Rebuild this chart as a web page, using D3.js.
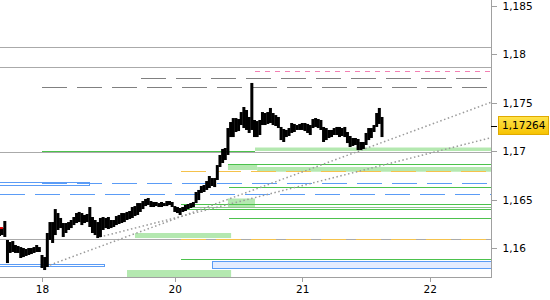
<!DOCTYPE html>
<html>
<head>
<meta charset="utf-8">
<script src="https://cdn.jsdelivr.net/npm/d3@7"></script>
<style>
  body { margin: 0; background: #fff; }
  text { font-family: "DejaVu Sans", sans-serif; font-size: 10.5px; }
</style>
</head>
<body>
<script>
var svgWidth = 550;
var svgHeight = 300;
var plotRight = 491;
var plotBottom = 277;

// axis data
var dayLabels = ["18", "20", "21", "22"];
var dayHours = [0, 25, 49, 73];          // trading hours since the 18th, weekend skipped
var priceTicks = [1.16, 1.165, 1.17, 1.175, 1.18, 1.185];
var lastPrice = 1.17264;

// half hour bars, first bar at hour -8
var barStart = -8;
var barStep = 0.5;
var highs = [1.16199,1.16209,1.16282,1.16086,1.16065,1.16075,1.16034,1.16024,1.16013,1.16003,
  1.15993,1.16003,1.16003,1.16013,1.16034,1.16013,1.15931,1.15910,1.16158,1.16271,
  1.16271,1.16405,1.16364,1.16313,1.16261,1.16261,1.16271,1.16292,1.16323,1.16364,
  1.16375,1.16364,1.16344,1.16354,1.16426,1.16323,1.16292,1.16271,1.16313,1.16323,
  1.16313,1.16323,1.16292,1.16292,1.16333,1.16344,1.16364,1.16364,1.16375,1.16385,
  1.16426,1.16436,1.16467,1.16467,1.16488,1.16509,1.16519,1.16488,1.16478,1.16478,
  1.16467,1.16478,1.16467,1.16488,1.16488,1.16478,1.16436,1.16426,1.16416,1.16426,
  1.16447,1.16457,1.16467,1.16478,1.16581,1.16602,1.16643,1.16653,1.16694,1.16746,
  1.16725,1.16725,1.16859,1.16963,1.17025,1.17035,1.17241,1.17303,1.17344,1.17344,
  1.17334,1.17406,1.17458,1.17427,1.17355,1.17706,1.17324,1.17313,1.17324,1.17406,
  1.17396,1.17406,1.17448,1.17396,1.17375,1.17355,1.17252,1.17231,1.17221,1.17241,
  1.17293,1.17283,1.17272,1.17283,1.17293,1.17293,1.17283,1.17272,1.17334,1.17344,
  1.17334,1.17324,1.17252,1.17241,1.17221,1.17221,1.17241,1.17252,1.17252,1.17241,
  1.17252,1.17200,1.17159,1.17138,1.17138,1.17128,1.17097,1.17097,1.17190,1.17241,
  1.17241,1.17272,1.17396,1.17448,1.17355];
var lows = [1.16127,1.16137,1.16117,1.15848,1.15952,1.15962,1.15952,1.15952,1.15900,1.15910,
  1.15921,1.15931,1.15941,1.15952,1.15962,1.15962,1.15797,1.15776,1.15807,1.16086,
  1.16055,1.16137,1.16189,1.16209,1.16117,1.16158,1.16189,1.16209,1.16240,1.16261,
  1.16271,1.16240,1.16261,1.16271,1.16220,1.16158,1.16137,1.16106,1.16117,1.16189,
  1.16209,1.16199,1.16209,1.16220,1.16240,1.16251,1.16261,1.16271,1.16292,1.16302,
  1.16313,1.16333,1.16344,1.16375,1.16405,1.16436,1.16447,1.16426,1.16426,1.16436,
  1.16426,1.16426,1.16436,1.16436,1.16447,1.16426,1.16375,1.16364,1.16344,1.16375,
  1.16385,1.16405,1.16416,1.16426,1.16467,1.16498,1.16571,1.16581,1.16602,1.16622,
  1.16643,1.16632,1.16705,1.16839,1.16880,1.16911,1.16963,1.17148,1.17148,1.17200,
  1.17210,1.17272,1.17241,1.17221,1.17190,1.17221,1.17148,1.17148,1.17169,1.17272,
  1.17272,1.17283,1.17293,1.17272,1.17262,1.17241,1.17117,1.17097,1.17148,1.17159,
  1.17190,1.17200,1.17221,1.17221,1.17221,1.17210,1.17190,1.17169,1.17241,1.17252,
  1.17241,1.17221,1.17097,1.17117,1.17138,1.17148,1.17169,1.17169,1.17148,1.17159,
  1.17148,1.17086,1.17045,1.17056,1.17066,1.17014,1.17014,1.17025,1.17066,1.17117,
  1.17138,1.17200,1.17252,1.17283,1.17148];
var signalPrice = 1.16209;   // red mark on the first bar

// levels: [price, from hour, to hour (optional)]
var grayLevels = [[1.18074, -8], [1.17868, -8], [1.16997, -8], [1.16093, -8]];
var grayDashLevels = [[1.17754, 18.6], [1.17661, 0]];
var pinkDashLevels = [[1.17829, 40.1]];
var blueDashLevels = [[1.16671, 0], [1.16557, -8]];
var orangeDashLevels = [[1.16795, 26.2], [1.16093, 26.2]];
var greenLevels = [[1.17007, 0, 40.1], [1.16867, 35.0], [1.16629, 35.2], [1.16457, 26.2],
  [1.16402, 26.2], [1.16310, 35.2], [1.15890, 26.2]];
var paleGreenLevels = [[1.16423, 26.2]];

// zones: [from hour, to hour, top price, bottom price]
var greenZones = [[40.1, 85, 1.17040, 1.17004], [35.0, 40.5, 1.16870, 1.16808],
  [40.5, 85, 1.16839, 1.16790], [35.0, 40.1, 1.16514, 1.16426],
  [17.5, 35.6, 1.16158, 1.16106], [16.0, 35.6, 1.15776, 1.15700]];
var blueOpenZones = [[-8, 9.0, 1.16684, 1.16656], [-8, 11.9, 1.15835, 1.15810]];
var blueFilledZones = [[32.0, 85, 1.15864, 1.15794]];

// trend lines: [hour, price, hour, price]
var trendLines = [[1.5, 1.15828, 84.5, 1.17506], [10.9, 1.16117, 84.5, 1.17141]];

var svg = d3.select("body")
  .append("svg")
  .attr("width", svgWidth)
  .attr("height", svgHeight);

var defs = svg.append("defs");
var grad = defs.append("linearGradient")
  .attr("id", "tag")
  .attr("x1", 0).attr("y1", 0).attr("x2", 0).attr("y2", 1);
grad.append("stop").attr("offset", "0%").attr("stop-color", "#ffe44d");
grad.append("stop").attr("offset", "100%").attr("stop-color", "#f6c200");

// scales
var x = d3.scaleLinear()
  .domain([-7.906, 84.52])
  .range([0, plotRight]);

var y = d3.scaleLinear()
  .domain([1.15704, 1.18562])
  .range([plotBottom, 0]);

var plot = svg.append("g")
  .attr("class", "plot");

// zones first
plot.selectAll(".gzone")
  .data(greenZones)
  .enter().append("rect")
  .attr("class", "gzone")
  .attr("x", function(d) { return x(d[0]); })
  .attr("width", function(d) { return Math.min(x(d[1]), plotRight) - x(d[0]); })
  .attr("y", function(d) { return y(d[2]); })
  .attr("height", function(d) { return Math.min(y(d[3]), plotBottom) - y(d[2]); })
  .attr("fill", "#b4e8b0");

plot.selectAll(".bfzone")
  .data(blueFilledZones)
  .enter().append("rect")
  .attr("class", "bfzone")
  .attr("x", function(d) { return Math.round(x(d[0])) + 0.5; })
  .attr("width", function(d) { return Math.round(Math.min(x(d[1]), plotRight) - x(d[0])); })
  .attr("y", function(d) { return Math.round(y(d[2])) + 0.5; })
  .attr("height", function(d) { return Math.round(y(d[3]) - y(d[2])); })
  .attr("fill", "#e4ecff")
  .attr("stroke", "#5b9cf6");

plot.selectAll(".bozone")
  .data(blueOpenZones)
  .enter().append("rect")
  .attr("class", "bozone")
  .attr("x", -1)
  .attr("width", function(d) { return Math.round(x(d[1])) + 0.5; })
  .attr("y", function(d) { return Math.round(y(d[2])) + 0.5; })
  .attr("height", function(d) { return Math.round(y(d[3]) - y(d[2])); })
  .attr("fill", "#fff")
  .attr("stroke", "#5b9cf6");

// horizontal level lines
function levels(data, cls, color, dash) {
  plot.selectAll("." + cls)
    .data(data)
    .enter().append("line")
    .attr("class", cls)
    .attr("x1", function(d) { return Math.max(x(d[1]), 0); })
    .attr("x2", function(d) { return d[2] === undefined ? plotRight : x(d[2]); })
    .attr("y1", function(d) { return Math.round(y(d[0])) + 0.5; })
    .attr("y2", function(d) { return Math.round(y(d[0])) + 0.5; })
    .attr("stroke", color)
    .attr("stroke-width", 1)
    .attr("stroke-dasharray", dash)
    .attr("shape-rendering", "crispEdges");
}

levels(grayLevels, "gray", "#aaaaaa", null);
levels(grayDashLevels, "graydash", "#808080", "25,10");
levels(pinkDashLevels, "pinkdash", "#f27fb2", "5,5");
levels(blueDashLevels, "bluedash", "#5b9cf6", "25,10");
levels(paleGreenLevels, "palegreen", "#8cc88c", null);
levels(greenLevels, "green", "#4cc24c", null);
levels(orangeDashLevels, "orangedash", "#f5c24c", "25,10");

// trend lines
plot.selectAll(".trend")
  .data(trendLines)
  .enter().append("line")
  .attr("class", "trend")
  .attr("x1", function(d) { return x(d[0]); })
  .attr("y1", function(d) { return y(d[1]); })
  .attr("x2", function(d) { return x(d[2]); })
  .attr("y2", function(d) { return y(d[3]); })
  .attr("stroke", "#9a9a9a")
  .attr("stroke-width", 1.5)
  .attr("stroke-dasharray", "1.5,2.5");

// price bars
var bars = highs.map(function(h, i) {
  return {t: barStart + i * barStep, high: h, low: lows[i]};
});

plot.selectAll(".bar")
  .data(bars)
  .enter().append("rect")
  .attr("class", "bar")
  .attr("x", function(d) { return x(d.t) - 1.5; })
  .attr("width", 3)
  .attr("y", function(d) { return y(d.high); })
  .attr("height", function(d) { return Math.max(1, y(d.low) - y(d.high)); })
  .attr("fill", "#000");

plot.append("rect")
  .attr("x", 0)
  .attr("width", 3)
  .attr("y", y(signalPrice) - 1)
  .attr("height", 2)
  .attr("fill", "#e00000");

// axes
var locale = d3.formatLocale({decimal: ",", thousands: ".", grouping: [3], currency: ["", ""]});
var fmt = locale.format(".3~f");

var xAxis = d3.axisBottom(x)
  .tickValues(dayHours)
  .tickFormat(function(d, i) { return dayLabels[i]; })
  .tickSize(4)
  .tickSizeOuter(0)
  .tickPadding(4);

var yAxis = d3.axisRight(y)
  .tickValues(priceTicks)
  .tickFormat(fmt)
  .tickSize(5)
  .tickSizeOuter(0)
  .tickPadding(6);

var gX = svg.append("g")
  .attr("class", "axis axis--x")
  .attr("transform", "translate(0," + (plotBottom + 0.5) + ")")
  .call(xAxis);

var gY = svg.append("g")
  .attr("class", "axis axis--y")
  .attr("transform", "translate(" + (plotRight + 0.5) + ",0)")
  .call(yAxis);

svg.selectAll(".axis path, .axis line")
  .attr("stroke", "#a0a0a0")
  .attr("shape-rendering", "crispEdges");
svg.selectAll(".axis text")
  .attr("fill", "#000")
  .style("font-size", "10.5px");
gX.select(".domain").attr("d", "M0,0H" + (plotRight + 0.5));
gY.select(".domain").attr("d", "M0,0V" + (plotBottom + 0.5));

// last price tag
var yLast = y(lastPrice);
svg.append("line")
  .attr("x1", plotRight).attr("x2", plotRight + 6)
  .attr("y1", Math.round(yLast) + 0.5).attr("y2", Math.round(yLast) + 0.5)
  .attr("stroke", "#000")
  .attr("shape-rendering", "crispEdges");

svg.append("rect")
  .attr("x", 498.5)
  .attr("y", Math.round(yLast) - 9.5)
  .attr("width", 50)
  .attr("height", 18)
  .attr("fill", "url(#tag)")
  .attr("stroke", "#e0aa00");

svg.append("text")
  .attr("x", 502)
  .attr("y", yLast)
  .attr("dy", "0.34em")
  .attr("fill", "#000")
  .text(locale.format(".5f")(lastPrice));
</script>
</body>
</html>
